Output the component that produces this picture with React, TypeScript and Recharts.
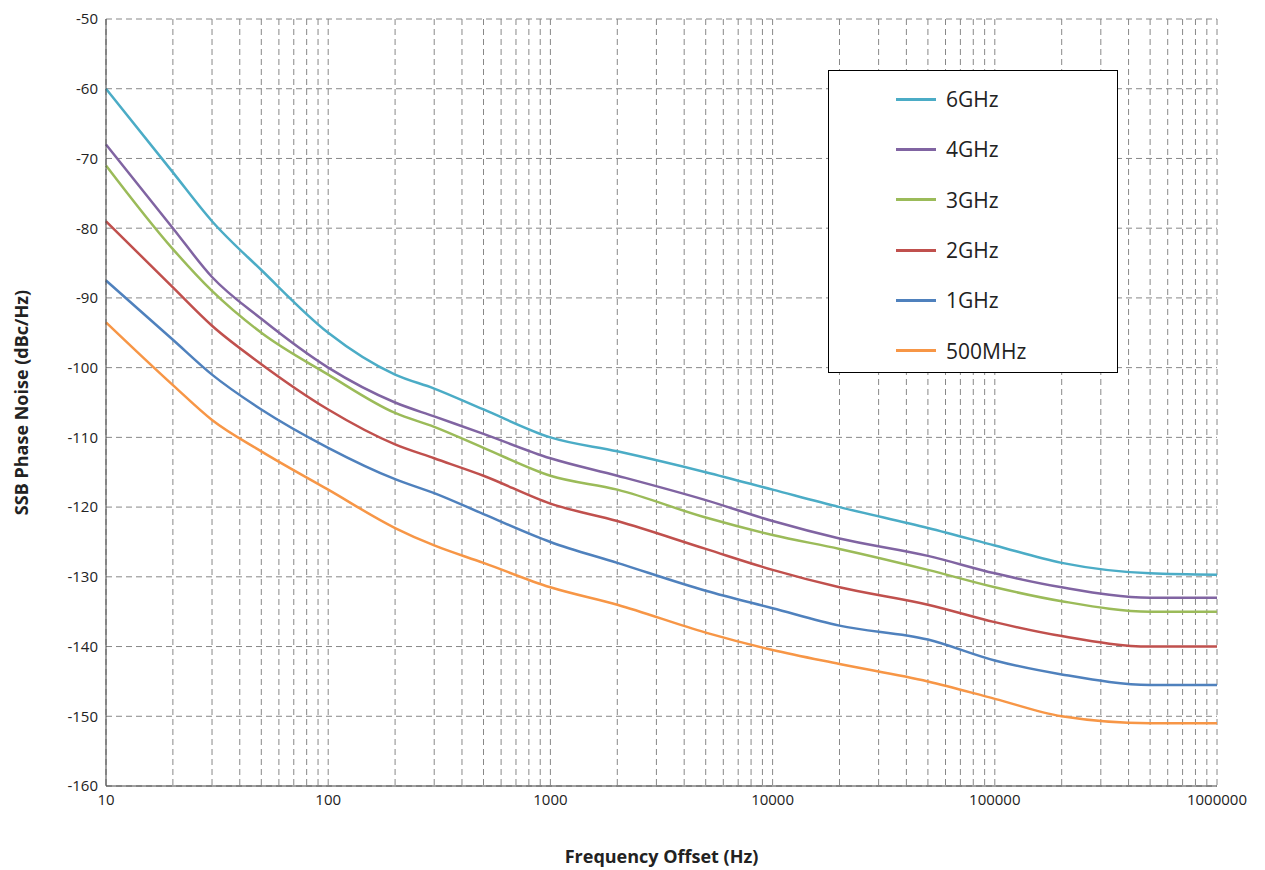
import React from 'react';
import { LineChart, Line, XAxis, YAxis, CartesianGrid } from 'recharts';

const freqs = [10, 20, 30, 50, 100, 200, 300, 500, 1000, 2000, 5000, 10000, 20000, 50000, 100000, 200000, 500000, 1000000];
const s6G = [-60, -72, -79, -86, -95, -101, -103, -106, -110, -112, -115, -117.5, -120, -123, -125.5, -128, -129.5, -129.7];
const s4G = [-68, -80, -87, -93, -100, -105, -107, -109.5, -113, -115.5, -119, -122, -124.5, -127, -129.5, -131.5, -133, -133];
const s3G = [-71, -83, -89, -95, -101, -106.5, -108.5, -111.5, -115.5, -117.5, -121.5, -124, -126, -129, -131.5, -133.5, -135, -135];
const s2G = [-79, -88.5, -94, -99.5, -106, -111, -113, -115.5, -119.5, -122, -126, -129, -131.5, -134, -136.5, -138.5, -140, -140];
const s1G = [-87.5, -96, -101, -106, -111.5, -116, -118, -121, -125, -128, -132, -134.5, -137, -139, -142, -144, -145.5, -145.5];
const s500M = [-93.5, -102.5, -107.5, -112, -117.5, -123, -125.5, -128, -131.5, -134, -138, -140.5, -142.5, -145, -147.5, -150, -151, -151];

const series = [
  { key: 's6G', name: '6GHz', color: '#4BACC6', values: s6G },
  { key: 's4G', name: '4GHz', color: '#8064A2', values: s4G },
  { key: 's3G', name: '3GHz', color: '#9BBB59', values: s3G },
  { key: 's2G', name: '2GHz', color: '#C0504D', values: s2G },
  { key: 's1G', name: '1GHz', color: '#4F81BD', values: s1G },
  { key: 's500M', name: '500MHz', color: '#F79646', values: s500M },
];

const data = freqs.map((f, i) => {
  const row: any = { f };
  series.forEach(s => { row[s.key] = s.values[i]; });
  return row;
});

const xTicks: number[] = [];
for (let d = 10; d < 1000000; d *= 10) for (let m = 1; m < 10; m++) xTicks.push(d * m);
xTicks.push(1000000);
const decades = [10, 100, 1000, 10000, 100000, 1000000];
const yTicks = [-160, -150, -140, -130, -120, -110, -100, -90, -80, -70, -60, -50];

const font = '"Open Sans", "Liberation Sans", sans-serif';

export default function App() {
  return (
    <div style={{ position: 'relative', width: 1257, height: 862, fontFamily: font }}>
      <LineChart width={1257} height={862} data={data} margin={{ top: 11, right: 48, left: 38, bottom: 54 }}>
        <CartesianGrid stroke="#888" strokeDasharray="6 4" />
        <XAxis dataKey="f" type="number" scale="log" domain={[10, 1000000]} ticks={xTicks} interval={0}
          tickFormatter={(v: number) => (decades.includes(v) ? String(v) : '')}
          tick={{ fontSize: 15, fill: '#222' }} tickLine={false} axisLine={{ stroke: '#444' }} height={30}
          label={{ value: 'Frequency Offset (Hz)', position: 'insideBottom', offset: -47, style: { fontSize: 18, fontWeight: 'bold', fill: '#222' } }} />
        <YAxis type="number" domain={[-160, -50]} ticks={yTicks} interval={0} width={60}
          tick={{ fontSize: 15, fill: '#222' }} tickLine={false} axisLine={{ stroke: '#444' }}
          label={{ value: 'SSB Phase Noise (dBc/Hz)', angle: -90, position: 'insideLeft', offset: -24, style: { textAnchor: 'middle', fontSize: 18, fontWeight: 'bold', fill: '#222' } }} />
        {series.map(s => (
          <Line key={s.key} type="monotone" dataKey={s.key} name={s.name} stroke={s.color} strokeWidth={2.5} dot={false} isAnimationActive={false} />
        ))}
      </LineChart>
      <div style={{ position: 'absolute', left: 820, top: 62, width: 290, height: 303, border: '1px solid #000', background: '#fff', boxSizing: 'border-box', paddingTop: 3 }}>
        {series.map(s => (
          <div key={s.key} style={{ display: 'flex', alignItems: 'center', height: 50.3 }}>
            <div style={{ marginLeft: 67, width: 40, height: 3, background: s.color }} />
            <span style={{ marginLeft: 10, fontSize: 21, color: '#222' }}>{s.name}</span>
          </div>
        ))}
      </div>
    </div>
  );
}
